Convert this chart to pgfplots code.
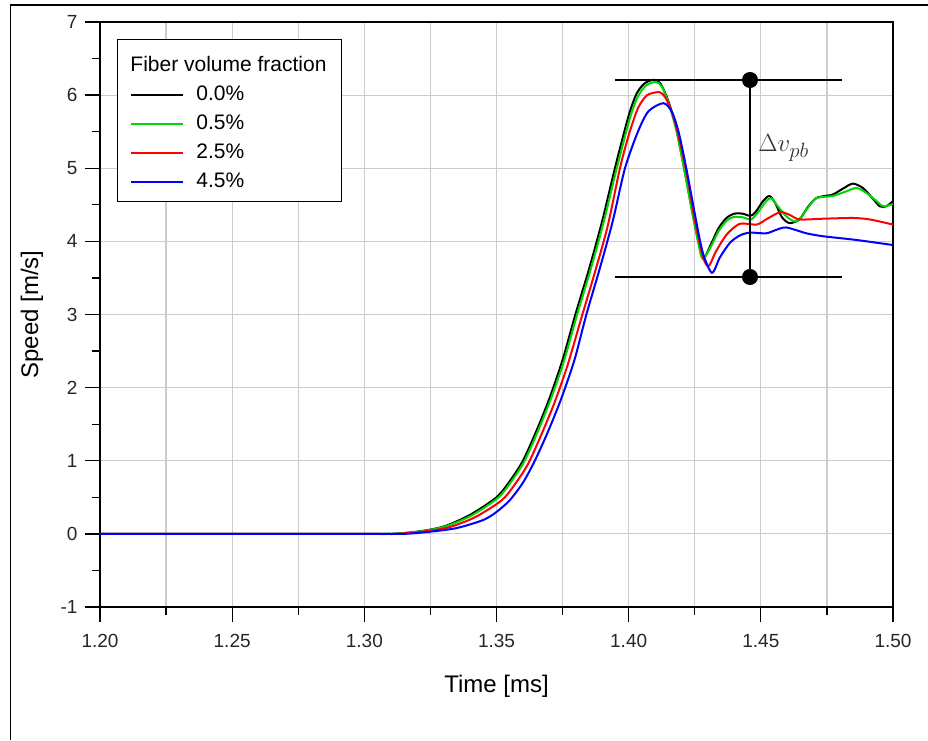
\documentclass[border=0pt]{standalone}
\usepackage{fontspec}
\setmainfont{Liberation Sans}
\usepackage{pgfplots}
\pgfplotsset{compat=1.18}

\definecolor{gridgray}{RGB}{204,204,204}
\definecolor{fgreen}{RGB}{0,215,0}

\begin{document}
\begin{tikzpicture}[x=1pt,y=1pt]
\useasboundingbox (0,0) rectangle (928,740);
\draw[line width=1.2pt] (10.5,0) -- (10.5,735) -- (928,735);
\begin{axis}[
  at={(100pt,133pt)}, anchor=south west,
  scale only axis, width=793pt, height=585pt,
  xmin=1.2, xmax=1.5, ymin=-1, ymax=7,
  xtick={1.20,1.25,1.30,1.35,1.40,1.45,1.50},
  ytick={-1,0,1,2,3,4,5,6,7},
  minor x tick num=1, minor y tick num=1,
  tick align=outside, tick pos=left,
  major tick length=15pt, minor tick length=8pt,
  xmajorgrids, xminorgrids, ymajorgrids,
  grid style={gridgray, line width=1.2pt},
  minor grid style={gridgray, line width=1.2pt},
  axis line style={line width=1.3pt},
  every tick/.style={black, line width=1.3pt},
  /pgf/number format/assume math mode=true,
  xticklabel style={yshift=-9pt, /pgf/number format/fixed, /pgf/number format/fixed zerofill, /pgf/number format/precision=2},
  yticklabel style={xshift=-4pt},
  tick label style={font=\fontsize{19}{22}\selectfont, text=black!85},
  xlabel={Time [ms]}, ylabel={Speed [m/s]},
  label style={font=\fontsize{24}{28}\selectfont},
  xlabel style={at={(axis description cs:0.5,-0.135)}, anchor=center},
  ylabel style={at={(axis description cs:-0.0858,0.5)}, anchor=center},
  legend cell align=left,
  legend style={at={(0.0214,0.971)}, anchor=north west, draw=black, line width=1pt,
    font=\fontsize{21}{24}\selectfont, row sep=7pt, column sep=10pt,
    inner xsep=13pt, inner ysep=8pt,
    nodes={inner sep=2pt, text height=14pt, text depth=4pt}},
  legend image code/.code={\draw[#1, line width=2pt] (0pt,0pt) -- (52pt,0pt);},
  every axis plot/.append style={smooth, tension=0.45},
]
\addlegendimage{empty legend}
\addlegendentry[text height=22pt]{\hspace{-66pt}Fiber volume fraction\hspace{32pt}}

\addplot[black, line width=2pt] table {
1.200 0
1.220 0
1.240 0
1.260 0
1.280 0
1.300 0
1.310 0
1.320 0.03
1.330 0.10
1.340 0.26
1.350 0.50
1.355 0.72
1.360 1.00
1.365 1.40
1.370 1.85
1.375 2.38
1.380 3.02
1.385 3.62
1.390 4.28
1.395 5.03
1.400 5.72
1.403 6.02
1.406 6.16
1.4095 6.21
1.412 6.16
1.415 5.92
1.418 5.55
1.421 5.00
1.424 4.42
1.4265 3.98
1.4285 3.78
1.431 3.95
1.434 4.18
1.437 4.32
1.440 4.38
1.443 4.38
1.446 4.35
1.448 4.40
1.451 4.56
1.4533 4.62
1.4555 4.52
1.458 4.33
1.4608 4.25
1.4646 4.30
1.468 4.48
1.4709 4.59
1.474 4.62
1.4772 4.64
1.481 4.72
1.4848 4.79
1.4886 4.73
1.492 4.60
1.495 4.48
1.4975 4.48
1.500 4.55
};
\addlegendentry{0.0\%}

\addplot[fgreen, line width=2pt] table {
1.200 0
1.220 0
1.240 0
1.260 0
1.280 0
1.300 0
1.310 0
1.3205 0.03
1.3305 0.10
1.3405 0.25
1.3505 0.49
1.3555 0.71
1.3605 0.99
1.3655 1.39
1.3705 1.84
1.3755 2.36
1.3805 3.00
1.3855 3.60
1.3905 4.26
1.3955 5.00
1.4005 5.69
1.4035 5.98
1.4065 6.13
1.4102 6.18
1.4125 6.12
1.4152 5.88
1.418 5.52
1.421 4.98
1.424 4.40
1.4265 3.95
1.428 3.76
1.431 3.92
1.434 4.14
1.437 4.28
1.4394 4.33
1.443 4.33
1.4463 4.30
1.449 4.40
1.452 4.55
1.454 4.59
1.456 4.50
1.4597 4.34
1.4635 4.27
1.467 4.42
1.471 4.59
1.4772 4.62
1.482 4.68
1.4862 4.73
1.490 4.66
1.4938 4.55
1.4963 4.48
1.500 4.51
};
\addlegendentry{0.5\%}

\addplot[red, line width=2pt] table {
1.200 0
1.220 0
1.240 0
1.260 0
1.280 0
1.300 0
1.312 0
1.322 0.03
1.332 0.09
1.342 0.23
1.352 0.46
1.357 0.68
1.362 0.96
1.367 1.36
1.372 1.80
1.377 2.32
1.382 2.94
1.387 3.55
1.392 4.20
1.3967 5.00
1.400 5.45
1.4035 5.82
1.407 6.00
1.4117 6.04
1.414 5.96
1.4165 5.75
1.419 5.42
1.422 4.92
1.425 4.30
1.428 3.80
1.4302 3.66
1.433 3.86
1.437 4.09
1.442 4.24
1.4484 4.23
1.452 4.30
1.4573 4.40
1.461 4.36
1.4647 4.30
1.4736 4.31
1.4848 4.32
1.4912 4.30
1.500 4.23
};
\addlegendentry{2.5\%}

\addplot[blue, line width=2pt] table {
1.200 0
1.220 0
1.240 0
1.260 0
1.280 0
1.300 0
1.315 0
1.325 0.03
1.335 0.08
1.345 0.19
1.350 0.30
1.355 0.46
1.360 0.70
1.3645 1.00
1.3695 1.40
1.3745 1.85
1.3795 2.38
1.3840 3.00
1.389 3.62
1.394 4.28
1.3986 5.00
1.4035 5.50
1.4075 5.78
1.4132 5.89
1.4165 5.76
1.419 5.48
1.4218 5.00
1.4249 4.40
1.428 3.85
1.4315 3.57
1.4345 3.78
1.4383 3.98
1.442 4.08
1.4459 4.12
1.452 4.11
1.456 4.16
1.4597 4.19
1.4673 4.11
1.4736 4.07
1.486 4.02
1.500 3.95
};
\addlegendentry{4.5\%}

% Delta v_pb marker
\addplot[black, line width=2pt, sharp plot, forget plot] coordinates {(1.3948,6.207) (1.4807,6.207)};
\addplot[black, line width=2pt, sharp plot, forget plot] coordinates {(1.3948,3.513) (1.4807,3.513)};
\addplot[black, line width=2pt, sharp plot, mark=*, mark size=7pt, forget plot] coordinates {(1.4459,6.207) (1.4459,3.513)};
\node[anchor=west, inner sep=0pt, font=\fontsize{29}{34}\selectfont, text=black!80] at (axis cs:1.4490,5.28) {$\Delta v_{pb}$};
\end{axis}
\end{tikzpicture}
\end{document}
